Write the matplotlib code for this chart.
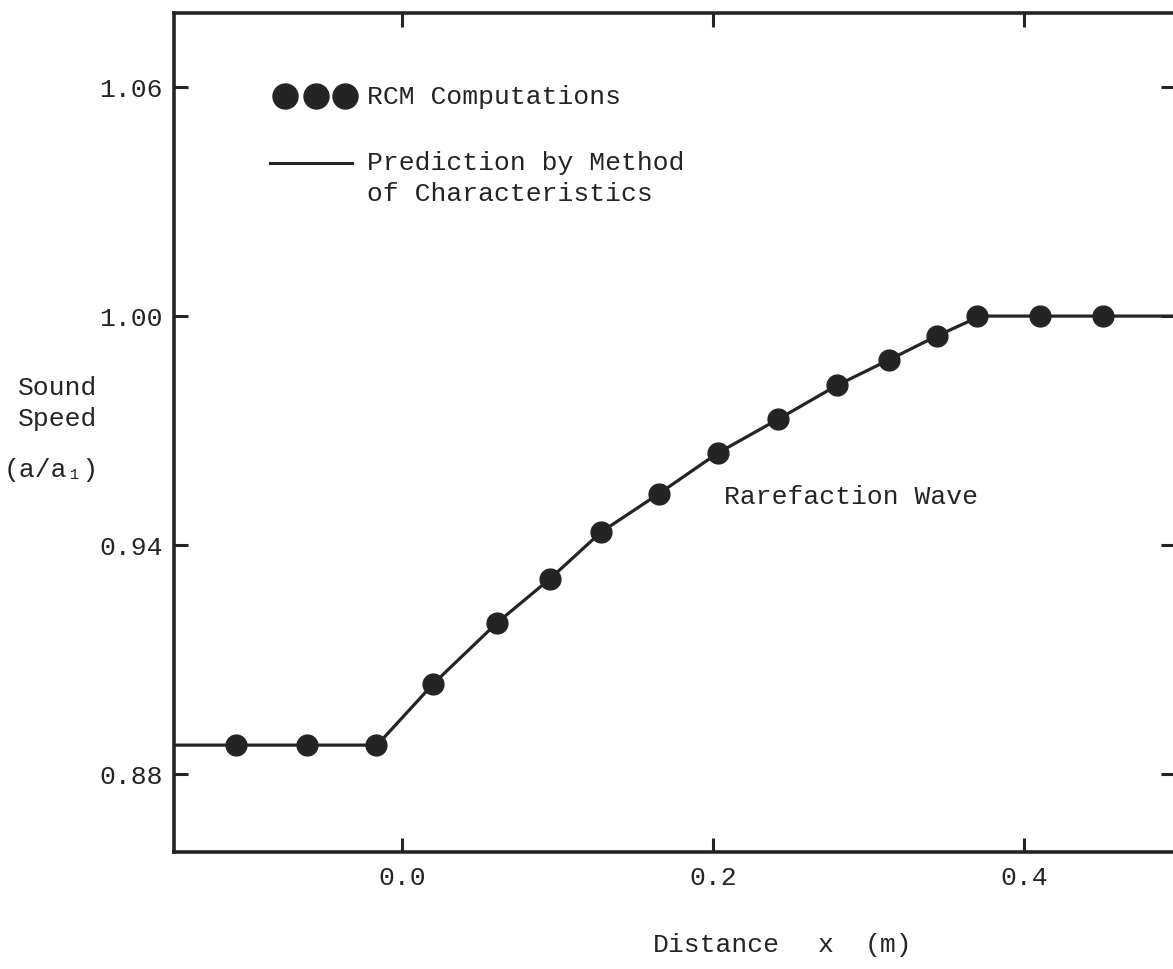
import matplotlib
matplotlib.use("Agg")
import matplotlib.pyplot as plt

plt.rcParams['font.family'] = ['Liberation Mono', 'DejaVu Sans Mono']

# RCM computations
rcm_x = [-0.107, -0.061, -0.017, 0.020, 0.061, 0.095, 0.128, 0.165, 0.203,
         0.242, 0.280, 0.313, 0.344, 0.370, 0.410, 0.451]
rcm_y = [0.8876, 0.8876, 0.8876, 0.9036, 0.9196, 0.9311, 0.9434, 0.9534, 0.9641,
         0.9730, 0.9819, 0.9885, 0.9948, 1.0000, 1.0000, 1.0000]

# prediction by method of characteristics
moc_x = [-0.16, -0.016, 0.020, 0.061, 0.095, 0.128, 0.165, 0.203, 0.242,
         0.280, 0.313, 0.344, 0.372, 0.52]
moc_y = [0.8876, 0.8876, 0.9036, 0.9196, 0.9311, 0.9434, 0.9534, 0.9641, 0.9730,
         0.9819, 0.9885, 0.9948, 1.0000, 1.0000]

xticks = [0.0, 0.2, 0.4]
yticks = [0.88, 0.94, 1.00, 1.06]

ink = '#242424'
fs = 19

fig = plt.figure(figsize=(11.73, 9.69), dpi=100)
ax = fig.add_axes([174/1173, 1 - 852/969, 1001/1173, 839/969])

ax.plot(moc_x, moc_y, '-', color=ink, lw=2.3, zorder=2)
ax.plot(rcm_x, rcm_y, 'o', color=ink, ms=15, zorder=3)

ax.set_xlim(-0.1466, 0.4971)
ax.set_ylim(0.8596, 1.0794)
ax.set_xticks(xticks)
ax.set_xticklabels(['%.1f' % v for v in xticks])
ax.set_yticks(yticks)
ax.set_yticklabels(['%.2f' % v for v in yticks])
ax.tick_params(direction='in', length=10, width=2.2, color=ink,
               top=True, right=True, labelsize=fs, labelcolor=ink)
ax.tick_params(axis='y', pad=8)
ax.tick_params(axis='x', pad=10)
for s in ax.spines.values():
    s.set_linewidth(2.6)
    s.set_color(ink)

# legend drawn by hand
ax.plot([0.111, 0.142, 0.171], [0.901, 0.901, 0.901], 'o', color=ink, ms=18,
        transform=ax.transAxes, clip_on=False)
ax.plot([0.096, 0.178], [0.821, 0.821], '-', color=ink, lw=2.2,
        transform=ax.transAxes)
ax.text(0.193, 0.900, 'RCM Computations', transform=ax.transAxes,
        fontsize=fs, color=ink, va='center', ha='left')
ax.text(0.193, 0.821, 'Prediction by Method', transform=ax.transAxes,
        fontsize=fs, color=ink, va='center', ha='left')
ax.text(0.193, 0.784, 'of Characteristics', transform=ax.transAxes,
        fontsize=fs, color=ink, va='center', ha='left')

ax.text(0.549, 0.423, 'Rarefaction Wave', transform=ax.transAxes,
        fontsize=fs, color=ink, va='center', ha='left')

# axis titles
fig.text(0.0153, 1 - 388/969, 'Sound', fontsize=fs, color=ink, va='center', ha='left')
fig.text(0.0153, 1 - 419/969, 'Speed', fontsize=fs, color=ink, va='center', ha='left')
fig.text(0.0030, 1 - 470/969, '(a/a\u2081)', fontsize=fs, color=ink, va='center', ha='left')
fig.text(653/1173, 1 - 945/969, 'Distance', fontsize=fs, color=ink, va='center', ha='left')
fig.text(826/1173, 1 - 945/969, 'x', fontsize=fs, color=ink, va='center', ha='center')
fig.text(865/1173, 1 - 945/969, '(m)', fontsize=fs, color=ink, va='center', ha='left')

fig.savefig('out.png', dpi=100)
